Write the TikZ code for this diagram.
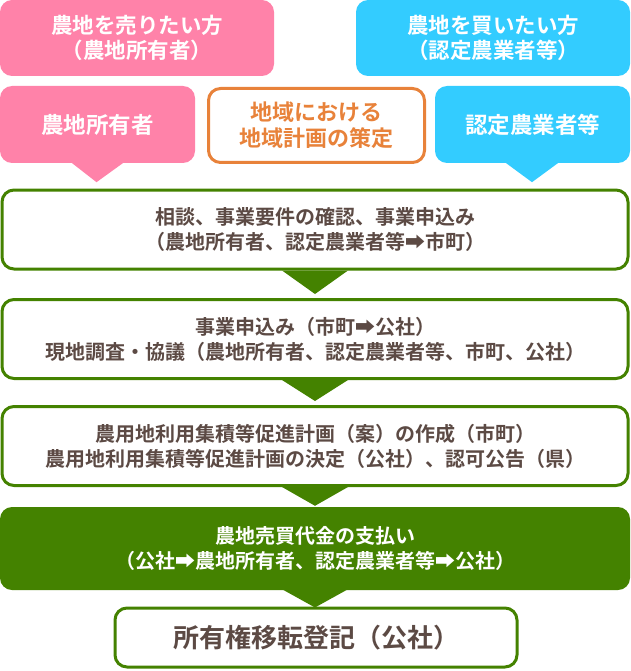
\documentclass[tikz,border=0pt]{standalone}
\usepackage{fontspec}
\newfontfamily\jp{Noto Sans CJK JP}[BoldFont={Noto Sans CJK JP Bold}]
\usetikzlibrary{calc}
\definecolor{pinkc}{HTML}{FF82A9}
\definecolor{bluec}{HTML}{33CCFF}
\definecolor{orangec}{HTML}{E8823A}
\definecolor{greenc}{HTML}{448200}
\definecolor{brownc}{HTML}{5C4A44}
\tikzset{
  base/.style={rounded corners=12pt, align=center, inner sep=0pt},
  sidebox/.style={base, text=white, font=\jp\bfseries\fontsize{21.5}{25}\selectfont},
  pinkbox/.style={sidebox, fill=pinkc},
  bluebox/.style={sidebox, fill=bluec},
  pointbox/.style={font=\jp\bfseries\fontsize{22.5}{26}\selectfont},
  planbox/.style={base, draw=orangec, line width=3pt, fill=white, text=orangec,
    font=\jp\bfseries\fontsize{22}{26}\selectfont},
  stepbox/.style={base, draw=greenc, line width=3pt, fill=white, text=brownc,
    minimum width=626pt, minimum height=79pt,
    font=\jp\bfseries\fontsize{20}{25}\selectfont},
  paybox/.style={base, fill=greenc, text=white,
    minimum width=630pt, minimum height=83pt,
    font=\jp\bfseries\fontsize{20}{25}\selectfont},
  endbox/.style={base, draw=greenc, line width=3pt, fill=white, text=brownc,
    minimum width=402pt, minimum height=59pt,
    font=\jp\bfseries\fontsize{26}{30}\selectfont},
  tri/.style={fill=greenc},
}
\begin{document}
\begin{tikzpicture}[x=1pt,y=-1pt]
\useasboundingbox (0,0) rectangle (630,671);
% top row
\node[pinkbox, minimum width=274pt, minimum height=76pt] (sell) at (137,38) {農地を売りたい方\\（農地所有者）};
\node[bluebox, minimum width=274pt, minimum height=76pt] (buy) at (493,38) {農地を買いたい方\\（認定農業者等）};
% second row
\node[pinkbox, pointbox, minimum width=195pt, minimum height=77pt] (owner) at (97.5,124.5) {農地所有者};
\node[bluebox, pointbox, minimum width=195pt, minimum height=77pt] (farmer) at (532.5,124.5) {認定農業者等};
\node[planbox, minimum width=216pt, minimum height=74pt] (plan) at (316.5,125.5) {地域における\\地域計画の策定};
% steps
\node[stepbox] (s1) at (315,229.5) {相談、事業要件の確認、事業申込み\\（農地所有者、認定農業者等➡市町）};
\node[stepbox] (s2) at (315,339) {事業申込み（市町➡公社）\\現地調査・協議（農地所有者、認定農業者等、市町、公社）};
\node[stepbox] (s3) at (315,446) {農用地利用集積等促進計画（案）の作成（市町）\\農用地利用集積等促進計画の決定（公社）、認可公告（県）};
\node[paybox] (s4) at (315,548.5) {農地売買代金の支払い\\（公社➡農地所有者、認定農業者等➡公社）};
\node[endbox] (s5) at (316,637.5) {所有権移転登記（公社）};
% pointers from the speech boxes
\fill[pinkc] ($(owner.south)+(-26,-0.5)$) -- ($(owner.south)+(26,-0.5)$) -- ($(owner.south)+(-1,19)$) -- cycle;
\fill[bluec] ($(farmer.south)+(-27,-0.5)$) -- ($(farmer.south)+(26,-0.5)$) -- ($(farmer.south)+(-0.5,19)$) -- cycle;
% connectors between steps
\fill[tri] ($(s1.south)+(-33,0)$) -- ($(s1.south)+(33,0)$) -- ($(s2.north)+(0,-4)$) -- cycle;
\fill[tri] ($(s2.south)+(-33,0)$) -- ($(s2.south)+(33,0)$) -- ($(s3.north)+(0,-4)$) -- cycle;
\fill[tri] ($(s3.south)+(-33,0)$) -- ($(s3.south)+(33,0)$) -- ($(s4.north)+(0,-1)$) -- cycle;
\fill[tri] ($(s4.south)+(-33,-1)$) -- ($(s4.south)+(33,-1)$) -- ($(s5.north)+(-1,1)$) -- cycle;
\end{tikzpicture}
\end{document}
